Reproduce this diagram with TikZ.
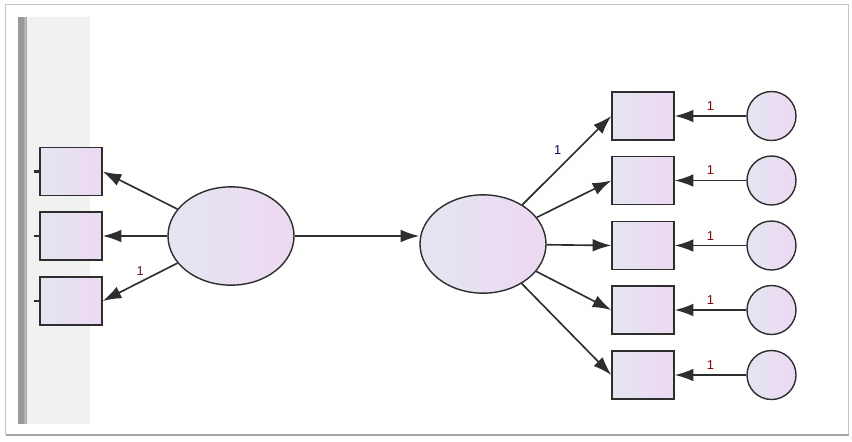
\documentclass[tikz,border=0pt]{standalone}
\usepackage{fontspec}
\setmainfont{Liberation Sans}
\usetikzlibrary{shapes.geometric,arrows.meta}
\definecolor{boxleft}{HTML}{E3E6F1}
\definecolor{boxright}{HTML}{EDD8F2}
\definecolor{edge}{HTML}{2E2E2E}

\begin{document}
\begin{tikzpicture}[x=0.03cm,y=-0.03cm,>={Latex[length=5.6mm,width=3.8mm]}]
  \tikzstyle{shade}=[draw=edge,line width=1.2pt,left color=boxleft,right color=boxright]
  \tikzstyle{obs}=[shade,rectangle,inner sep=0pt,minimum width=1.86cm,minimum height=1.45cm]
  \tikzstyle{lat}=[shade,ellipse,inner sep=0pt,minimum width=3.78cm,minimum height=2.95cm]
  \tikzstyle{err}=[shade,circle,inner sep=0pt,minimum size=1.47cm]
  \tikzstyle{path}=[draw=edge,line width=1.4pt,->]
  \tikzstyle{lbl}=[font=\fontsize{11}{12}\selectfont,inner sep=1pt]
  \useasboundingbox (0,0) rectangle (852,441);
  % window frame and left margin
  \fill[white] (0,0) rectangle (852,441);
  \draw[gray!45,line width=0.8pt] (5,4) rectangle (848,434);
  \draw[gray!70,line width=1.6pt] (6,435) -- (849,435);
  \fill[gray!11] (27,17) rectangle (90,424);
  \fill[gray!80] (18,17) rectangle (24,424);
  \fill[gray!60] (24,17) rectangle (27,424);

  % left factor and its indicators
  \node[lat] (f1) at (231,236) {};
  \foreach \n/\y in {1/171.5,2/236,3/301} {
    \node[obs] (x\n) at (71,\y) {};
    \draw[edge,line width=2pt] (x\n.west) -- ++(-5,0);
  }
  \draw[path] (f1) -- (x1.east);
  \draw[path] (f1) -- (x2.east);
  \draw[path] (f1) -- (x3.east) node[lbl,midway,above=4pt,text=gray!40!red!50!black] {1};

  % right factor, indicators and errors
  \node[lat] (f2) at (483,244) {};
  \draw[path] (f1.east) -- (f2.west |- f1.east);
  \foreach \n/\y in {1/116,2/180.5,3/245.5,4/310,5/375} {
    \node[obs] (y\n) at (643,\y) {};
    \node[err] (e\n) at (771.5,\y) {};
    \draw[path] (e\n) -- (y\n) node[lbl,midway,above=3pt,text=red!55!black] {1};
  }
  \draw[path] (f2) -- (y1.west) node[lbl,midway,above left=3pt,text=blue!45!black] {1};
  \foreach \n in {2,...,5} {
    \draw[path] (f2) -- (y\n.west);
  }
\end{tikzpicture}
\end{document}
